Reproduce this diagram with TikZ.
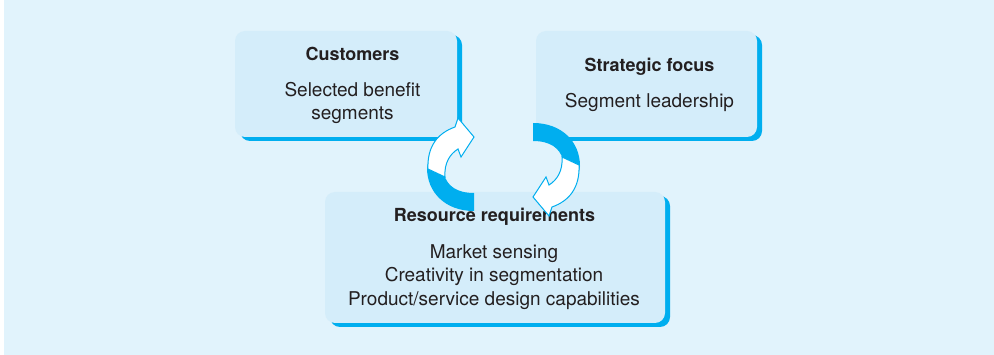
\documentclass[tikz,border=0pt]{standalone}
\usepackage{fontspec}
\setmainfont{TeX Gyre Heros}
\usetikzlibrary{shadows}
\definecolor{bgc}{HTML}{E1F3FC}
\definecolor{boxc}{HTML}{D4EDFA}
\definecolor{cyanc}{HTML}{00AEEF}
\definecolor{txtc}{HTML}{231F20}
\tikzset{
  cyc/.pic={
    \fill[cyanc] (533,123) .. controls (562,123) and (580,142) .. (580,166)
      -- (579,172) -- (563,160) .. controls (560,148) and (550,141) .. (533,141) -- cycle;
    \filldraw[fill=white, draw=cyanc, line width=1pt, line join=miter]
      (579,165) .. controls (580,188) and (569,201) .. (552,207)
      -- (549,216) -- (533,197) -- (546,177) -- (549,185)
      .. controls (557,180) and (563,171) .. (562,157) -- cycle;
  }
}
\begin{document}
\begin{tikzpicture}[x=1pt,y=-1pt,
  box/.style={rectangle, rounded corners=10pt, fill=boxc, inner sep=0pt,
    general shadow={fill=cyanc, shadow xshift=5pt, shadow yshift=-4pt}},
  ttl/.style={anchor=base, inner sep=0pt, font=\fontsize{18}{22}\selectfont\bfseries, text=txtc},
  lbl/.style={anchor=base, inner sep=0pt, font=\fontsize{19}{23}\selectfont, text=txtc}]
\useasboundingbox (0,0) rectangle (994,355);
\fill[white] (0,0) rectangle (994,355);
\fill[bgc] (4,0) rectangle (994,355);
% boxes
\node[box, minimum width=222pt, minimum height=106pt] (cust) at (346,84) {};
\node[box, minimum width=221pt, minimum height=106pt] (strat) at (646.5,84) {};
\node[box, minimum width=340pt, minimum height=131pt] (res) at (495,257.5) {};
% texts
\node[ttl] (custT) at (352.5,61) {Customers};
\node[lbl] (custA) at (352.5,97) {Selected benefit};
\node[lbl] (custB) at (352.5,120) {segments};
\node[ttl] (stratT) at (649.5,72) {Strategic focus};
\node[lbl] (stratA) at (649.5,108) {Segment leadership};
\node[ttl] (resT) at (494.5,222) {Resource requirements};
\node[lbl] (resA) at (494,259) {Market sensing};
\node[lbl] (resB) at (494,282) {Creativity in segmentation};
\node[lbl] (resC) at (494,306) {Product/service design capabilities};
% cycle arrows
\pic at (0,0) {cyc};
\pic[rotate=180] at (1007,334) {cyc};
\end{tikzpicture}
\end{document}
